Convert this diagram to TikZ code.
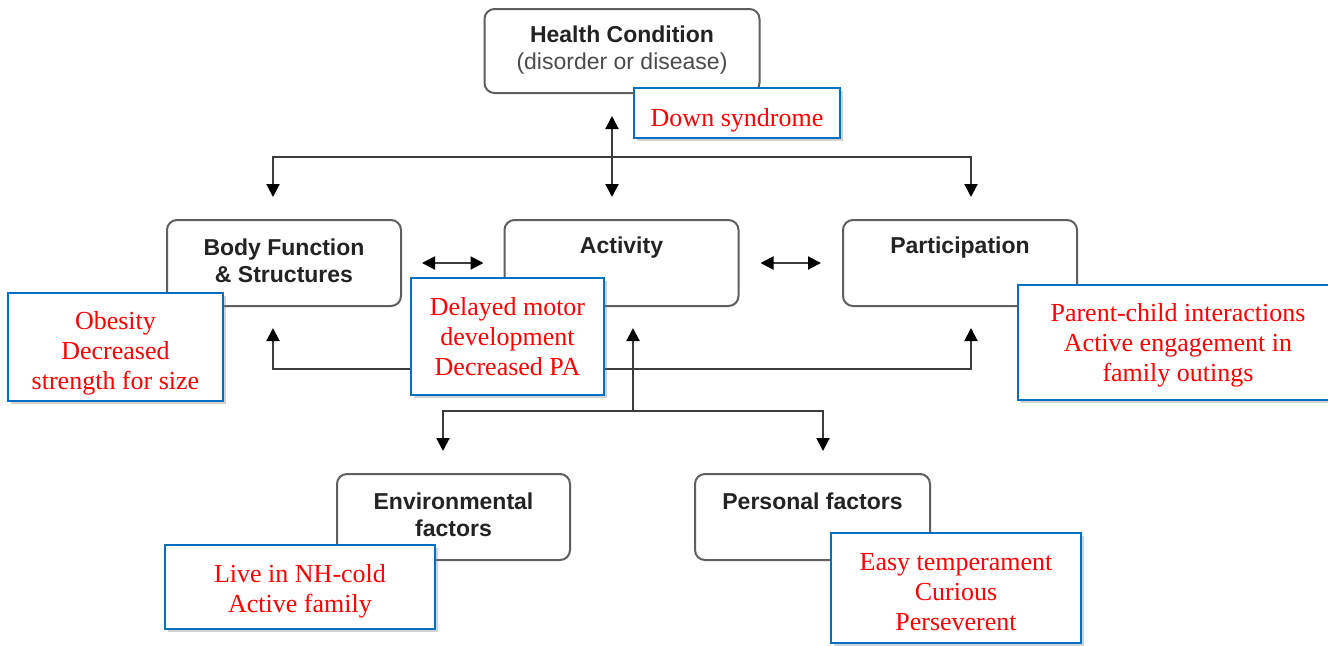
\documentclass[tikz,border=0pt]{standalone}
\usepackage{fontspec}
\setmainfont{Liberation Serif}
\newfontfamily\arialfont{Liberation Sans}
\usepackage{tikz}
\usetikzlibrary{arrows.meta, positioning, shadows, calc}
\definecolor{icfgray}{RGB}{95,95,95}
\definecolor{icfline}{RGB}{60,60,60}
\definecolor{icftext}{RGB}{35,35,35}
\definecolor{icfsub}{RGB}{75,75,75}
\definecolor{icfblue}{RGB}{0,112,192}
\definecolor{icfred}{RGB}{255,0,0}

\begin{document}
\begin{tikzpicture}[
    x=0.5pt, y=-0.5pt,    % one unit = one pixel of the layout
    gbox/.style={rectangle, rounded corners=5pt, draw=icfgray, line width=1pt, fill=white,
                 minimum width=117pt, minimum height=43pt},
    gtext/.style={font=\arialfont\bfseries\fontsize{11.5}{13.5}\selectfont, text=icftext,
                  align=center, inner sep=0pt},
    note/.style={rectangle, draw=icfblue, line width=1.3pt, fill=white, text=icfred,
                 align=center, font=\fontsize{13}{15}\selectfont, inner ysep=0pt,
                 drop shadow={shadow xshift=1.5pt, shadow yshift=-1.5pt, opacity=0.35}},
    link/.style={draw=icfline, line width=1pt},
    arrow/.style={link, -{Triangle[length=6.5pt,width=6.5pt,color=black]}},
    dblarrow/.style={link, {Triangle[length=6.5pt,width=6.5pt,color=black]}-{Triangle[length=6.5pt,width=6.5pt,color=black]}}
]

\path[use as bounding box, fill=white] (0,0) rectangle (1328,645);

\node[gbox, minimum width=137.5pt, minimum height=42pt] (hc) at (622,51) {};
\node[gbox] (bfs) at (284,263) {};
\node[gbox] (act) at (621.5,263) {};
\node[gbox] (par) at (960,263) {};
\node[gbox, minimum width=116.5pt] (env) at (453.5,517) {};
\node[gbox, minimum width=117.5pt] (pf) at (812.5,517) {};

\node[gtext] (hc-txt) at (622,50) {Health Condition\\{\mdseries\color{icfsub}(disorder or disease)}};
\node[gtext] (bfs-txt) at (284,261) {Body Function\\\& Structures};
\node[gtext] (act-txt) at (621.5,248) {Activity};
\node[gtext] (par-txt) at (960,248) {Participation};
\node[gtext] (env-txt) at (453.5,515) {Environmental\\factors};
\node[gtext] (pf-txt) at (812.5,501) {Personal factors};

\coordinate (hub-top) at (612,157);
\coordinate (hub-mid) at (633,369);
\coordinate (hub-low) at (633,411);

\draw[dblarrow, shorten <=11pt, shorten >=11pt] (hc.south -| hub-top) -- (act.north -| hub-top);
\draw[arrow, shorten >=11pt] (hub-top) -| ([xshift=-5.5pt]bfs.north);
\draw[arrow, shorten >=11pt] (hub-top) -| ([xshift=5.5pt]par.north);

\draw[dblarrow, shorten <=10pt, shorten >=10pt] (bfs.east |- 0,263) -- (act.west |- 0,263);
\draw[dblarrow, shorten <=10.5pt, shorten >=10.5pt] (act.east) -- (par.west);

\draw[arrow, shorten >=10.5pt] (hub-mid) -| ([xshift=-5.5pt]bfs.south);
\draw[arrow, shorten >=10.5pt] (hub-mid) -| ([xshift=5.5pt]par.south);
\draw[arrow, shorten >=10.5pt] (hub-low) -- (act.south -| hub-low);
\draw[arrow, shorten >=11pt] (hub-low) -| ([xshift=-5.25pt]env.north);
\draw[arrow, shorten >=11pt] (hub-low) -| ([xshift=5.25pt]pf.north);

\node[note, minimum width=103pt, minimum height=25pt, text height=16.5pt] (ds) at (737,113) {Down syndrome};
\node[note, minimum width=107.5pt, minimum height=54pt, text height=45.5pt] (obs) at (115.5,347) {Obesity\\Decreased\\strength for size};
\node[note, minimum width=96.5pt, minimum height=58.5pt] (dmd) at (507.5,336.5) {Delayed motor\\development\\Decreased PA};
\node[note, minimum width=160pt, minimum height=57.5pt, text height=42pt] (pci) at (1178,342.5) {Parent-child interactions\\Active engagement in\\family outings};
\node[note, minimum width=135pt, minimum height=42pt, text height=28pt] (nh) at (300,587) {Live in NH-cold\\Active family};
\node[note, minimum width=125pt, minimum height=55pt, text height=42.5pt] (et) at (956,588) {Easy temperament\\Curious\\Perseverent};

\end{tikzpicture}
\end{document}
